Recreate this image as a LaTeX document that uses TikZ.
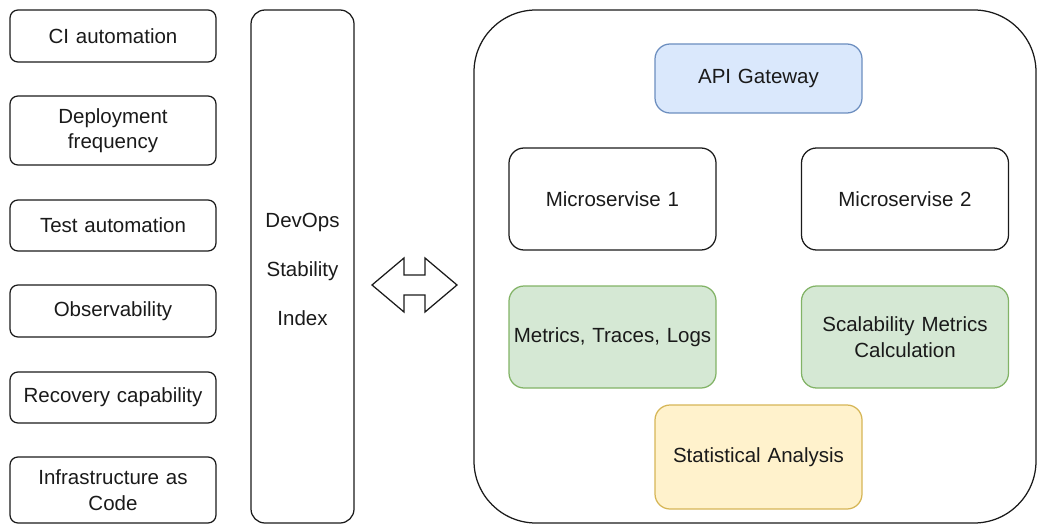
\documentclass[tikz,border=0pt]{standalone}
\usepackage{fontspec}
\setmainfont{Liberation Sans}
\definecolor{bluefill}{HTML}{DAE8FC}
\definecolor{bluedraw}{HTML}{6C8EBF}
\definecolor{greenfill}{HTML}{D5E8D4}
\definecolor{greendraw}{HTML}{82B366}
\definecolor{yellowfill}{HTML}{FFF2CC}
\definecolor{yellowdraw}{HTML}{D6B656}
\definecolor{ink}{HTML}{1A1A1A}
\begin{document}
\begin{tikzpicture}[x=1pt,y=-1pt,
  base/.style={draw=ink, line width=1.25pt, rectangle, align=center, inner sep=1pt,
    text=ink, font=\fontsize{20.5}{25.5}\selectfont},
  smallbox/.style={base, rounded corners=8pt, minimum width=206pt, text width=204pt},
  bigbox/.style={base, rounded corners=15pt, minimum width=207pt, minimum height=102pt, text width=205pt},
  bluebox/.style={bigbox, fill=bluefill, draw=bluedraw},
  greenbox/.style={bigbox, fill=greenfill, draw=greendraw},
  yellowbox/.style={bigbox, fill=yellowfill, draw=yellowdraw},
  tallbox/.style={draw=ink, line width=1.25pt, rectangle, rounded corners=14pt,
    minimum width=103pt, minimum height=513pt},
  talltext/.style={align=center, text=ink, font=\fontsize{20.5}{49}\selectfont},
  container/.style={draw=ink, line width=1.25pt, rectangle, rounded corners=62pt,
    minimum width=562pt, minimum height=513pt},
  dblarrow/.style={draw=ink, line width=1.25pt, line join=miter}
]
\useasboundingbox (0,0) rectangle (1038,524);

% left column
\node[smallbox, minimum height=52pt] (ci)   at (113,36)    {CI automation};
\node[smallbox, minimum height=69pt] (dep)  at (113,130.5) {Deployment\\frequency};
\node[smallbox, minimum height=51pt] (test) at (113,225.5) {Test automation};
\node[smallbox, minimum height=52pt] (obs)  at (113,311)   {Observability};
\node[smallbox, minimum height=51pt] (rec)  at (113,397.5) {Recovery capability};
\node[smallbox, minimum height=66pt] (iac)  at (113,490)   {Infrastructure as\\Code};

% tall index box
\node[tallbox] (dsi) at (302.5,266.5) {};
\node[talltext] (dsitext) at (302.5,269.5) {DevOps\\Stability\\Index};

% double arrow
\coordinate (al) at (372,285);
\coordinate (ar) at (457,285);
\draw[dblarrow] (al) -- (404,258) -- (404,275) -- (425,275) -- (425,258) -- (ar)
  -- (425,312) -- (425,295) -- (404,295) -- (404,312) -- cycle;

% container
\node[container] (sys) at (755,266.5) {};

\node[bluebox, minimum height=69pt] (api) at (758.5,78.5) {API Gateway};
\node[bigbox] (ms1) at (612.5,199) {Microservise 1};
\node[bigbox] (ms2) at (905,199) {Microservise 2};
\node[greenbox] (mtl) at (612.5,337) {Metrics, Traces, Logs};
\node[greenbox] (smc) at (905,337) {Scalability Metrics\\Calculation};
\node[yellowbox, minimum height=104pt] (sa) at (758.5,457) {Statistical Analysis};
\end{tikzpicture}
\end{document}
